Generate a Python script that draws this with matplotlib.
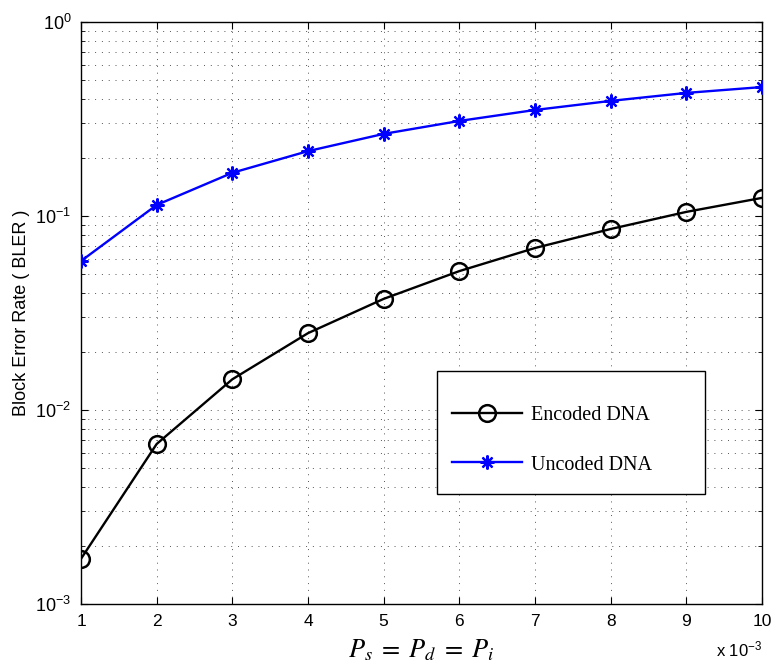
import math
import matplotlib
matplotlib.use("Agg")
import matplotlib.pyplot as plt
from matplotlib.patches import Rectangle
from matplotlib.ticker import LogLocator, FixedLocator, NullFormatter, FuncFormatter

# Error probability (units of 1e-3)
p_err = [1, 2, 3, 4, 5, 6, 7, 8, 9, 10]
bler_encoded = [0.00171, 0.00668, 0.0144, 0.0249, 0.0374, 0.052, 0.0684, 0.0857, 0.105, 0.124]
bler_uncoded = [0.0586, 0.114, 0.167, 0.216, 0.265, 0.309, 0.352, 0.392, 0.431, 0.462]
x_ticks = [1, 2, 3, 4, 5, 6, 7, 8, 9, 10]

plt.rcParams['font.family'] = ['Liberation Sans', 'DejaVu Sans']
plt.rcParams['mathtext.fontset'] = 'custom'
plt.rcParams['mathtext.rm'] = 'Liberation Sans'
plt.rcParams['mathtext.it'] = 'Liberation Sans:italic'

fig = plt.figure(figsize=(7.73, 6.71), dpi=100)
ax = fig.add_axes([81 / 773, 67 / 671, 681 / 773, 582 / 671])

ax.plot(p_err, bler_encoded, color='black', lw=1.7, marker='o', markersize=12,
        markerfacecolor='none', markeredgewidth=1.8, label='Encoded DNA', zorder=3)
ax.plot(p_err, bler_uncoded, color='blue', lw=1.7, marker=(8, 2, 0), markersize=10,
        markeredgewidth=1.6, label='Uncoded DNA', zorder=3)

ax.set_yscale('log')
ax.set_xlim(1, 10)
ax.set_ylim(1e-3, 1)
ax.xaxis.set_major_locator(FixedLocator(x_ticks))
ax.yaxis.set_major_locator(LogLocator(base=10, numticks=10))
ax.yaxis.set_minor_locator(LogLocator(base=10, subs=range(2, 10), numticks=20))
ax.yaxis.set_minor_formatter(NullFormatter())
ax.yaxis.set_major_formatter(FuncFormatter(lambda v, pos: r'$10^{%d}$' % round(math.log10(v))))

ax.tick_params(which='both', direction='in', top=True, right=True)
ax.tick_params(which='major', length=5, width=0.8)
ax.tick_params(which='minor', length=3, width=0.6)
ax.tick_params(axis='x', which='major', labelsize=12.5, pad=7)
ax.tick_params(axis='y', which='major', labelsize=13, pad=7)

grid_style = dict(color='#555555', linestyle=(0, (1, 6)), linewidth=0.7)
ax.grid(True, which='major', axis='both', **grid_style)
ax.grid(True, which='minor', axis='y', **grid_style)

for s in ax.spines.values():
    s.set_linewidth(1.0)

ax.set_ylabel('Block Error Rate ( BLER )', fontsize=13)
ax.yaxis.set_label_coords(-0.075, 0.5)
ax.set_xlabel(r'$P_s\;=\;P_d\;=\;P_i$', fontsize=19, math_fontfamily='stix')
ax.xaxis.set_label_coords(0.5, -0.058)
ax.text(1.0, -0.061, r'x $10^{-3}$', transform=ax.transAxes, ha='right', va='top', fontsize=12)

# legend box
box = Rectangle((0.5228, 0.1890), 0.3935, 0.2113, transform=ax.transAxes,
                facecolor='white', edgecolor='black', linewidth=1.0, zorder=4)
ax.add_patch(box)
leg = ax.legend(loc='upper left', bbox_to_anchor=(0.5448, 0.340), frameon=False,
                prop={'family': 'Liberation Serif', 'size': 14.5},
                handlelength=3.5, borderpad=0, labelspacing=1.5, handletextpad=0.4,
                borderaxespad=0)
leg.set_zorder(5)

fig.savefig('out.png', dpi=100)
